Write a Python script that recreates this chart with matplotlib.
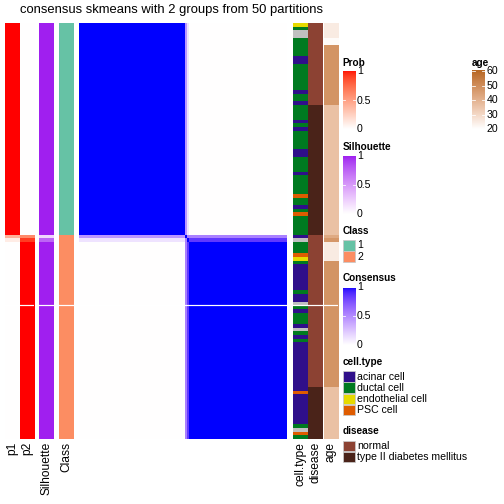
import numpy as np
import matplotlib
matplotlib.use("Agg")
import matplotlib.pyplot as plt
from matplotlib.colors import LinearSegmentedColormap, to_rgb
from matplotlib.patches import Rectangle
from matplotlib.lines import Line2D

plt.rcParams["font.family"] = ["Liberation Sans", "DejaVu Sans"]

# ---- data (one entry per sample, rows ordered as in the figure) ----
n_class1 = 57
n_class2 = 55

# the two samples at the start of class 2 that are not clean members
p1_edge = [0.40, 0.10]
p2_edge = [0.60, 0.90]
silhouette_edge = [0.20, 0.75]
cons_edge_to_c1 = [0.45, 0.12]   # consensus of edge samples with class 1
cons_edge_to_c2 = [0.55, 0.85]   # consensus of edge samples with class 2
cons_edge_pair = 0.55

cell_type_runs = [
    ("endothelial cell", 1), ("ductal cell", 1), (None, 2), ("ductal cell", 5),
    ("acinar cell", 2), ("ductal cell", 7), ("acinar cell", 1), ("ductal cell", 2),
    ("acinar cell", 1), ("ductal cell", 4), ("acinar cell", 1), ("ductal cell", 1),
    ("acinar cell", 1), ("ductal cell", 5), ("acinar cell", 2), ("ductal cell", 4),
    ("acinar cell", 1), ("ductal cell", 5), ("PSC cell", 1), ("ductal cell", 2),
    ("acinar cell", 1), ("ductal cell", 1), ("PSC cell", 1), ("ductal cell", 5),
    # class 2
    ("acinar cell", 1), (None, 1), ("ductal cell", 3), ("PSC cell", 1),
    ("endothelial cell", 1), ("ductal cell", 1), ("acinar cell", 7), ("ductal cell", 1),
    ("acinar cell", 2), (None, 1), ("ductal cell", 1), ("acinar cell", 1),
    ("ductal cell", 3), ("acinar cell", 1), (None, 1), ("ductal cell", 1),
    ("acinar cell", 1), ("ductal cell", 1), ("acinar cell", 13), ("PSC cell", 1),
    ("acinar cell", 8), ("ductal cell", 1), (None, 1), ("PSC cell", 1), ("ductal cell", 1),
]
disease_runs = [("normal", 22), ("type II diabetes mellitus", 35),
                ("normal", 41), ("type II diabetes mellitus", 14)]
age_runs = [(25, 4), (21, 2), (48, 16), (36, 35),
            (42, 1), (47, 1), (25, 5), (48, 34), (36, 14)]

cell_types = ["acinar cell", "ductal cell", "endothelial cell", "PSC cell"]
diseases = ["normal", "type II diabetes mellitus"]

cell_type_colors = {"acinar cell": "#2F0F8A", "ductal cell": "#007A20",
                    "endothelial cell": "#E6DA00", "PSC cell": "#DF5C00", None: "#C0C0C0"}
disease_colors = {"normal": "#8C4233", "type II diabetes mellitus": "#4A2319"}
class_colors = {1: "#66C2A5", 2: "#FC8D62"}


def expand(runs):
    out = []
    for v, k in runs:
        out += [v] * k
    return out


N = n_class1 + n_class2
cell_type = expand(cell_type_runs)
disease = expand(disease_runs)
age = np.array(expand(age_runs), float)
cls = np.array([1] * n_class1 + [2] * n_class2)

p1 = np.where(cls == 1, 1.0, 0.0)
p2 = 1 - p1
p1[n_class1:n_class1 + 2] = p1_edge
p2[n_class1:n_class1 + 2] = p2_edge
sil = np.ones(N)
sil[n_class1:n_class1 + 2] = silhouette_edge

cons = (cls[:, None] == cls[None, :]).astype(float)
for k in range(2):
    i = n_class1 + k
    cons[i, :n_class1] = cons[:n_class1, i] = cons_edge_to_c1[k]
    cons[i, n_class1 + 2:] = cons[n_class1 + 2:, i] = cons_edge_to_c2[k]
cons[n_class1, n_class1 + 1] = cons[n_class1 + 1, n_class1] = cons_edge_pair
np.fill_diagonal(cons, 1.0)


# ---- colour ramps interpolated in Lab space ----
M = np.array([[0.4124, 0.3576, 0.1805], [0.2126, 0.7152, 0.0722], [0.0193, 0.1192, 0.9505]])
WP = np.array([0.95047, 1.0, 1.08883])


def to_lab(rgb):
    rgb = np.asarray(rgb, float)
    lin = np.where(rgb <= 0.04045, rgb / 12.92, ((rgb + 0.055) / 1.055) ** 2.4)
    xyz = lin @ M.T / WP
    f = np.where(xyz > 0.008856, np.cbrt(xyz), 7.787 * xyz + 16 / 116)
    return np.stack([116 * f[..., 1] - 16, 500 * (f[..., 0] - f[..., 1]),
                     200 * (f[..., 1] - f[..., 2])], -1)


def from_lab(lab):
    fy = (lab[..., 0] + 16) / 116
    f = np.stack([fy + lab[..., 1] / 500, fy, fy - lab[..., 2] / 200], -1)
    xyz = np.where(f ** 3 > 0.008856, f ** 3, (f - 16 / 116) / 7.787) * WP
    lin = np.clip(xyz @ np.linalg.inv(M).T, 0, None)
    rgb = np.where(lin <= 0.0031308, 12.92 * lin, 1.055 * lin ** (1 / 2.4) - 0.055)
    return np.clip(rgb, 0, 1)


def lab_ramp(c1, name):
    t = np.linspace(0, 1, 256)[:, None]
    lab = to_lab(to_rgb("white")) * (1 - t) + to_lab(to_rgb(c1)) * t
    return LinearSegmentedColormap.from_list(name, from_lab(lab))


cmap_prob = lab_ramp("#FF0000", "prob")
cmap_sil = lab_ramp("#A020F0", "sil")
cmap_cons = lab_ramp("#0000FF", "cons")
cmap_age = lab_ramp("#B5651E", "age")
age_min, age_max = 20, 61

# ---- layout in pixels ----
W = H = 504
fig = plt.figure(figsize=(W / 72, H / 72), dpi=72)
TOP, BOT = 23, 438.5


def px_axes(x0, y0, x1, y1):
    ax = fig.add_axes([x0 / W, 1 - y1 / H, (x1 - x0) / W, (y1 - y0) / H])
    ax.set_axis_off()
    return ax


def ftext(x, y, s, **kw):
    fig.text(x / W, 1 - y / H, s, **kw)


def column(x0, x1, img, **kw):
    ax = px_axes(x0, TOP, x1, BOT)
    ax.imshow(img, aspect="auto", interpolation="nearest", **kw)
    ax.axhline(75.5, color="white", lw=1.2)
    return ax


column(5, 19.8, p1[:, None], cmap=cmap_prob, vmin=0, vmax=1)
column(19.8, 34.5, p2[:, None], cmap=cmap_prob, vmin=0, vmax=1)
column(39, 54, sil[:, None], cmap=cmap_sil, vmin=0, vmax=1)
column(59, 74, np.array([to_rgb(class_colors[c]) for c in cls])[:, None, :])
column(79, 287, cons, cmap=cmap_cons, vmin=0, vmax=1)
column(293, 307.5, np.array([to_rgb(cell_type_colors[c]) for c in cell_type])[:, None, :])
column(308.3, 322.7, np.array([to_rgb(disease_colors[d]) for d in disease])[:, None, :])
column(323.5, 338, age[:, None], cmap=cmap_age, vmin=age_min, vmax=age_max)

ftext(171, 10, "consensus skmeans with 2 groups from 50 partitions",
      fontsize=13, ha="center", va="center")

for x, lab in [(12.4, "p1"), (27.2, "p2"), (46.5, "Silhouette"), (66.5, "Class"),
               (300.2, "cell.type"), (315.5, "disease"), (330.7, "age")]:
    ftext(x, 442, lab, fontsize=12, rotation=90, ha="center", va="top")


# ---- legends ----
def colorbar_legend(x, title, title_y, y0, y1, cmap, vmin, vmax, ticks, labels):
    ftext(x, title_y, title, fontsize=10, fontweight="bold", ha="left", va="center")
    ax = px_axes(x, y0, x + 13, y1)
    grad = np.linspace(vmax, vmin, 200)[:, None]
    ax.imshow(grad, aspect="auto", cmap=cmap, vmin=vmin, vmax=vmax,
              extent=[0, 1, vmin, vmax], interpolation="bilinear")
    ax.set_xlim(0, 1)
    ax.set_ylim(vmin, vmax)
    for t, lab in zip(ticks, labels):
        if vmin < t < vmax:
            ax.add_line(Line2D([0, 0.22], [t, t], color="white", lw=0.8))
            ax.add_line(Line2D([0.78, 1], [t, t], color="white", lw=0.8))
        ty = y1 - (t - vmin) / (vmax - vmin) * (y1 - y0)
        ftext(x + 14.5, ty, lab, fontsize=10.5, ha="left", va="center")


def swatch_legend(x, title, title_y, y0, labels, colors, step=11.3):
    ftext(x, title_y, title, fontsize=10, fontweight="bold", ha="left", va="center")
    for i, (lab, c) in enumerate(zip(labels, colors)):
        y = y0 + i * step
        fig.add_artist(Rectangle((x / W, 1 - (y + 10.5) / H), 12 / W, 10.5 / H,
                                 transform=fig.transFigure, facecolor=c,
                                 edgecolor="#C8C8C8", lw=0.8))
        ftext(x + 14.5, y + 5.5, lab, fontsize=10.5, ha="left", va="center")


colorbar_legend(342.5, "Prob", 62.7, 71.5, 129.5, cmap_prob, 0, 1,
                [1, 0.5, 0], ["1", "0.5", "0"])
colorbar_legend(342.5, "Silhouette", 146.7, 156, 214, cmap_sil, 0, 1,
                [1, 0.5, 0], ["1", "0.5", "0"])
swatch_legend(342.5, "Class", 231, 240, ["1", "2"], [class_colors[1], class_colors[2]])
colorbar_legend(342.5, "Consensus", 277.7, 287.5, 345, cmap_cons, 0, 1,
                [1, 0.5, 0], ["1", "0.5", "0"])
swatch_legend(342.5, "cell.type", 361.7, 371, cell_types,
              [cell_type_colors[c] for c in cell_types])
swatch_legend(342.5, "disease", 430.7, 440.5, diseases,
              [disease_colors[d] for d in diseases])
colorbar_legend(472, "age", 63, 70, 129.5, cmap_age, 19.6, age_max,
                [60, 50, 40, 30, 20], ["60", "50", "40", "30", "20"])

fig.savefig("out.png", dpi=72)
